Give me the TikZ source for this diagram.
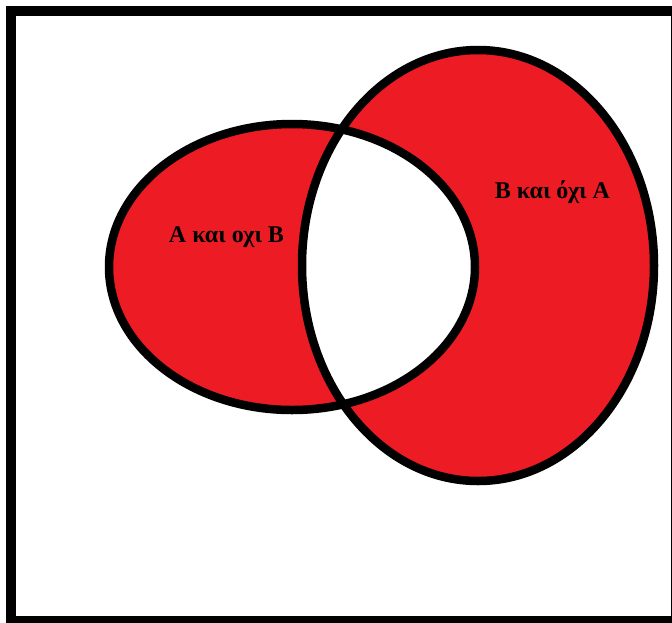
\documentclass[tikz,border=0pt]{standalone}
\usepackage{fontspec}
\setmainfont{Liberation Serif}
\definecolor{vred}{HTML}{ED1C24}
\begin{document}
\begin{tikzpicture}[x=1pt,y=-1pt,
  setline/.style={line width=8.5pt, draw=black},
  lbl/.style={font=\fontsize{24}{24}\selectfont\bfseries, inner sep=0pt, anchor=base}]
\useasboundingbox (0,0) rectangle (672,622);
\clip (0,0) rectangle (672,622);
\fill[white] (0,0) rectangle (672,622);
\fill[vred, even odd rule] (292,267) ellipse [x radius=183, y radius=143]
  (478,265.5) ellipse [x radius=176, y radius=215.5];
\draw[setline] (292,267) ellipse [x radius=183, y radius=143];
\draw[setline] (478,265.5) ellipse [x radius=176, y radius=215.5];
\draw[line width=10pt] (11,11) rectangle (676,621);
\node[lbl] (la) at (226.5,242) {Α και οχι Β};
\node[lbl] (lb) at (552.5,198) {Β και όχι Α};
\end{tikzpicture}
\end{document}
